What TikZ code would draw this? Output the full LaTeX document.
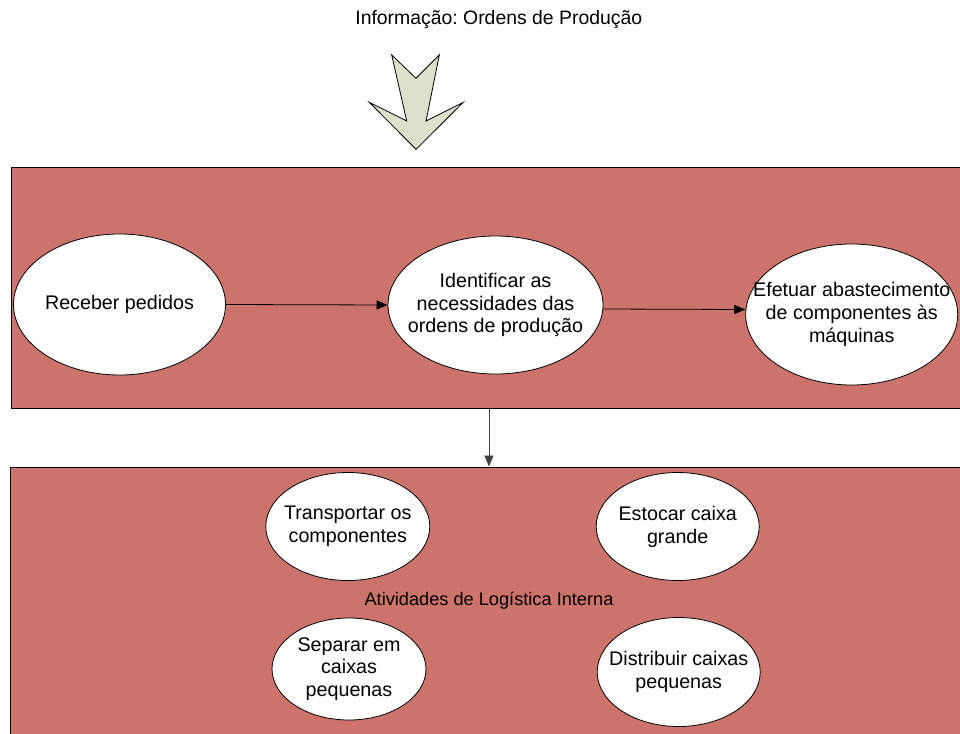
\documentclass[tikz,border=0pt]{standalone}
\usepackage{fontspec}
\setmainfont{Liberation Sans}
\usetikzlibrary{shapes.geometric,arrows.meta}
\definecolor{lanefill}{RGB}{204,115,108}
\definecolor{flowfill}{RGB}{221,224,203}
\frenchspacing
\begin{document}
\begin{tikzpicture}[x=1pt,y=-1pt,
  lane/.style={draw=black,line width=1pt,fill=lanefill,rectangle,inner sep=0pt},
  task/.style={draw=black,line width=0.8pt,fill=white,ellipse,inner sep=0pt},
  tasktext/.style={inner sep=0pt,align=center,font=\fontsize{19.7}{22.8}\selectfont},
  caption/.style={inner sep=0pt,font=\fontsize{18.2}{21}\selectfont},
  link/.style={draw=black,line width=0.8pt,-{Triangle[length=11pt,width=9pt]}}]
\useasboundingbox (0,0) rectangle (960,733);
\clip (0,0) rectangle (960,733);

% incoming information
\node[caption,font=\fontsize{19.4}{22}\selectfont] (info) at (498.8,19.5) {Informação: Ordens de Produção};
\draw[fill=flowfill,line width=0.8pt,line join=miter]
  (391.7,55) -- (416,78.3) -- (439.3,55) -- (426,121) -- (463.3,102.3)
  -- (416,149.3) -- (369.3,102.3) -- (406.7,121) -- cycle;

% upper lane
\node[lane,minimum width=960,minimum height=241] (upper) at (491,287.5) {};
\node[task,minimum width=212,minimum height=141] (receber) at (119.5,304.5) {};
\node[task,minimum width=215,minimum height=138] (identificar) at (495.5,305) {};
\node[task,minimum width=212,minimum height=141] (efetuar) at (851.7,314.5) {};
\node[tasktext] (receberT) at (receber) {Receber pedidos};
\node[tasktext] (identificarT) at (identificar) {Identificar as\\necessidades das\\ordens de produção};
\node[tasktext] (efetuarT) at (efetuar) {Efetuar abastecimento\\de componentes às\\máquinas};
\draw[link] (receber.east) -- (identificar.west);
\draw[link] ([yshift=-4pt]identificar.east) -- ([yshift=5pt]efetuar.west);

% lower lane
\node[lane,minimum width=960,minimum height=300] (lower) at (490,617) {};
\coordinate (drop) at (489,0);
\draw[link,draw=black!75] (upper.south -| drop) -- (lower.north -| drop);

\node[task,minimum width=164,minimum height=108] (transportar) at (347.8,526.5) {};
\node[task,minimum width=163,minimum height=108] (estocar) at (677.7,526.5) {};
\node[task,minimum width=154,minimum height=102] (separar) at (349,669) {};
\node[task,minimum width=163,minimum height=109] (distribuir) at (678.7,672) {};
\node[tasktext] (transportarT) at (transportar) {Transportar os\\componentes};
\node[tasktext] (estocarT) at (estocar) {Estocar caixa\\grande};
\node[tasktext] (separarT) at (separar) {Separar em\\caixas\\pequenas};
\node[tasktext] (distribuirT) at (distribuir) {Distribuir caixas\\pequenas};
\node[caption] (atividades) at (489,601) {Atividades de Logística Interna};
\end{tikzpicture}
\end{document}
